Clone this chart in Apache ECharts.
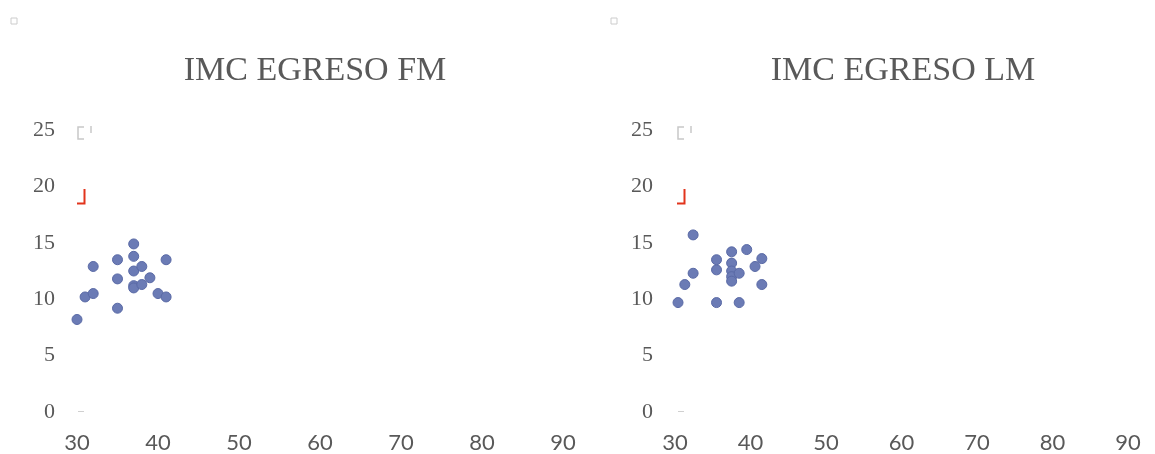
<!DOCTYPE html>
<html>
<head>
<meta charset="utf-8">
<title>IMC EGRESO</title>
<script src="https://cdn.jsdelivr.net/npm/echarts@6/dist/echarts.min.js"></script>
<style>
  html, body { margin: 0; padding: 0; background: #ffffff; }
  #chart { width: 1155px; height: 454px; }
</style>
</head>
<body>
<div id="chart"></div>
<script>
// Panel titles
const titles = ['IMC EGRESO FM', 'IMC EGRESO LM'];

// Axis ranges and tick steps
const xTicks = [30, 40, 50, 60, 70, 80, 90];
const yTicks = [0, 5, 10, 15, 20, 25];

// FM group: age vs. BMI at discharge
const fmX = [30, 31, 32, 32, 35, 35, 35, 37, 37, 37, 37, 37, 38, 38, 39, 40, 41, 41];
const fmY = [8.2, 10.2, 10.5, 12.9, 13.5, 11.8, 9.2, 14.9, 13.8, 12.5, 11.2, 11.0, 12.9, 11.3, 11.9, 10.5, 13.5, 10.2];

// LM group: age vs. BMI at discharge
const lmX = [30.4, 31.3, 32.4, 32.4, 35.5, 35.5, 35.5, 37.5, 37.5, 37.5, 37.5, 37.5, 38.5, 38.5, 39.5, 40.6, 41.5, 41.5];
const lmY = [9.7, 11.3, 12.3, 15.7, 13.5, 12.6, 9.7, 14.2, 13.2, 12.5, 12.0, 11.6, 12.3, 9.7, 14.4, 12.9, 13.6, 11.3];

const TEXT = '#595959';
const DOT = '#6b7bb5';

function pairs(xs, ys) { return xs.map((x, i) => [x, ys[i]]); }

function xAxis(gridIndex) {
  return {
    type: 'value', gridIndex,
    min: xTicks[0], max: xTicks[xTicks.length - 1], interval: xTicks[1] - xTicks[0],
    axisLine: { show: false }, axisTick: { show: false }, splitLine: { show: false },
    axisLabel: { color: TEXT, fontFamily: 'Lato', fontSize: 22, margin: 20 }
  };
}
function yAxis(gridIndex) {
  return {
    type: 'value', gridIndex,
    min: yTicks[0], max: yTicks[yTicks.length - 1], interval: yTicks[1] - yTicks[0],
    axisLine: { show: false }, axisTick: { show: false }, splitLine: { show: false },
    axisLabel: { color: TEXT, fontFamily: 'Liberation Serif', fontSize: 22, margin: 22 }
  };
}
function scatter(i, xs, ys) {
  return {
    type: 'scatter', xAxisIndex: i, yAxisIndex: i,
    data: pairs(xs, ys), symbolSize: 10,
    itemStyle: { color: DOT, borderColor: '#5a6aa6', borderWidth: 1, opacity: 1 }
  };
}

// Small chart-area handles drawn beside each plot
function handles(dx) {
  const grey = { stroke: '#c8c8c8', lineWidth: 1.5, fill: null };
  return [
    { type: 'rect', shape: { x: 11 + dx, y: 18, width: 6, height: 6 }, style: { stroke: '#cccccc', lineWidth: 1, fill: null } },
    { type: 'polyline', shape: { points: [[84 + dx, 127], [78 + dx, 127], [78 + dx, 139], [84 + dx, 139]] }, style: grey },
    { type: 'line', shape: { x1: 91 + dx, y1: 126, x2: 91 + dx, y2: 133 }, style: grey },
    { type: 'polyline', shape: { points: [[84.5 + dx, 189], [84.5 + dx, 203.5], [77 + dx, 203.5]] }, style: { stroke: '#e2341c', lineWidth: 2, fill: null } },
    { type: 'line', shape: { x1: 78 + dx, y1: 411.5, x2: 84 + dx, y2: 411.5 }, style: { stroke: '#d0d0d0', lineWidth: 1 } }
  ];
}

const chart = echarts.init(document.getElementById('chart'), null, { renderer: 'canvas' });
chart.setOption({
  backgroundColor: '#ffffff',
  animation: false,
  title: [
    { text: titles[0], left: 310, top: 49, textAlign: 'center',
      textStyle: { color: TEXT, fontFamily: 'Liberation Serif', fontSize: 34, fontWeight: 'normal' } },
    { text: titles[1], left: 898, top: 49, textAlign: 'center',
      textStyle: { color: TEXT, fontFamily: 'Liberation Serif', fontSize: 34, fontWeight: 'normal' } }
  ],
  grid: [
    { left: 77, top: 130, width: 486, height: 282 },
    { left: 675, top: 130, width: 453, height: 282 }
  ],
  xAxis: [xAxis(0), xAxis(1)],
  yAxis: [yAxis(0), yAxis(1)],
  series: [scatter(0, fmX, fmY), scatter(1, lmX, lmY)],
  graphic: handles(0).concat(handles(600))
});
</script>
</body>
</html>
